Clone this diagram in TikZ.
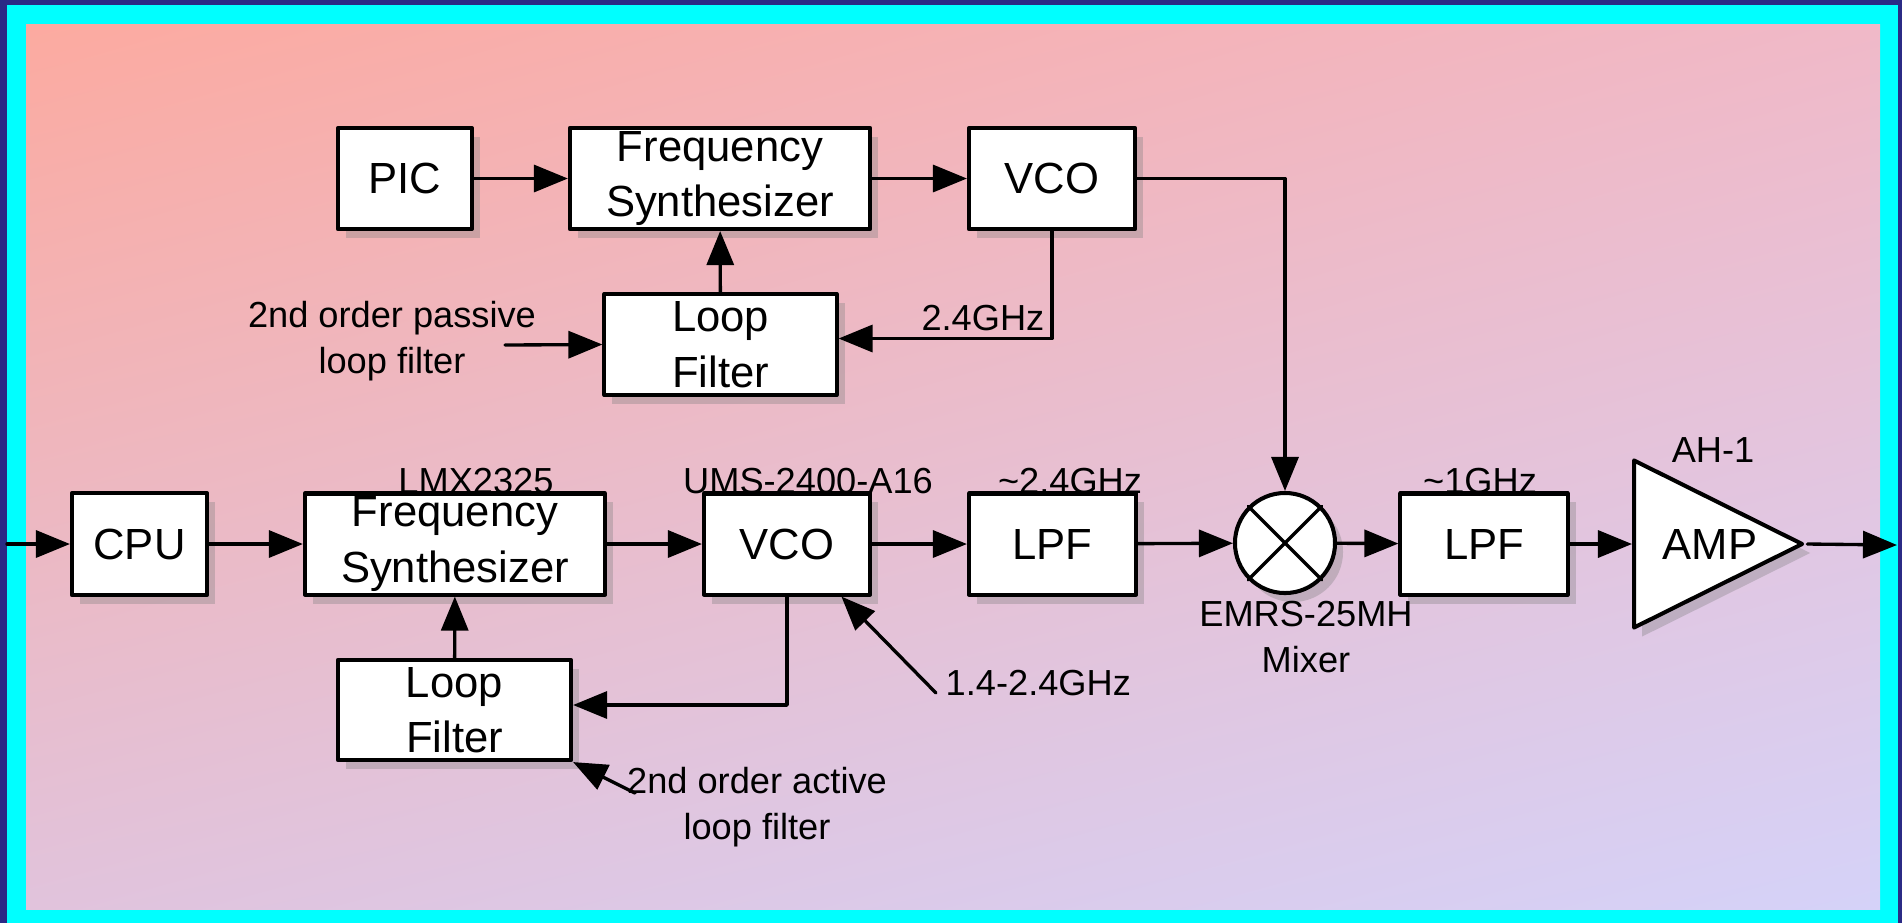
\documentclass[tikz,border=0pt]{standalone}
\usepackage{fontspec}
\setmainfont{Liberation Sans}
\usetikzlibrary{arrows.meta,shapes.geometric,shadows,shadings}
\definecolor{navyrim}{rgb}{0.17,0.17,0.52}
\definecolor{cyanrim}{rgb}{0.,1.,1.}
\definecolor{bgsalmon}{rgb}{0.988,0.667,0.627}
\definecolor{bgrose}{rgb}{0.941,0.725,0.784}
\definecolor{bgmauve}{rgb}{0.882,0.765,0.863}
\definecolor{bglilac}{rgb}{0.835,0.824,0.973}
\tikzset{
  blk/.style={draw=black,line width=1.15pt,fill=white,align=center,inner sep=0pt,
    minimum height=1.01cm,font=\fontsize{12.4}{15.8}\selectfont,
    drop shadow={shadow xshift=0.08cm,shadow yshift=-0.09cm,opacity=0.35}},
  mixr/.style={circle,draw=black,line width=1.15pt,fill=white,inner sep=0pt,minimum size=1.0cm,
    drop shadow={shadow xshift=0.08cm,shadow yshift=-0.09cm,opacity=0.35}},
  ampl/.style={isosceles triangle,isosceles triangle stretches,draw=black,line width=1.15pt,
    fill=white,inner sep=0pt,minimum width=1.67cm,minimum height=1.68cm,
    font=\fontsize{12.4}{15.8}\selectfont,
    drop shadow={shadow xshift=0.08cm,shadow yshift=-0.09cm,opacity=0.35}},
  lbl/.style={inner sep=0pt,font=\fontsize{10.3}{13}\selectfont},
  conn/.style={line width=0.95pt,-{Triangle[length=0.34cm,width=0.27cm]}}
}
\begin{document}
\begin{tikzpicture}[line cap=round,line join=round,x=0.01cm,y=-0.01cm]
\useasboundingbox (0,0) rectangle (1902,923);
\fill[navyrim] (0,0) rectangle (1902,923);
\fill[cyanrim] (7,5) rectangle (1898,923);
\shade[upper left=bgsalmon,upper right=bgrose,lower left=bgmauve,lower right=bglilac] (26,24) rectangle (1880,909);
% upper loop
\node[blk,minimum width=1.34cm] (pic) at (405,178.5) {PIC};
\node[blk,minimum width=3.00cm] (fsA) at (720,178.5) {Frequency\\Synthesizer};
\node[blk,minimum width=1.66cm] (vcoA) at (1052,178.5) {VCO};
\node[blk,minimum width=2.32cm] (lfA) at (720.5,344.5) {Loop\\Filter};
\coordinate (passin) at (505,345);
% lower chain
\node[blk,minimum width=1.35cm,minimum height=1.02cm] (cpu) at (139.5,544) {CPU};
\node[blk,minimum width=3.00cm] (fsB) at (455,544) {Frequency\\Synthesizer};
\node[blk,minimum width=1.66cm] (vcoB) at (787,544) {VCO};
\node[blk,minimum width=2.33cm,minimum height=1.00cm] (lfB) at (454.5,710) {Loop\\Filter};
\node[blk,minimum width=1.67cm] (lpfA) at (1052.5,544) {LPF};
\node[mixr] (mix) at (1285,543) {};
\node[blk,minimum width=1.67cm] (lpfB) at (1484,544) {LPF};
\node[ampl,anchor=lower side] (amp) at (1632,544) {\hspace*{0.22cm}AMP};
\coordinate (rfin) at (7,544);
\coordinate (rfout) at (1897,545);
\coordinate (actin) at (635,793);
\coordinate (tunein) at (936,693);
\draw[line width=0.95pt] (mix.45) -- (mix.-135);
\draw[line width=0.95pt] (mix.135) -- (mix.-45);
% connectors
\draw[conn] (pic) -- (fsA);
\draw[conn] (fsA) -- (vcoA);
\draw[conn] (lfA) -- (fsA);
\draw[conn] (vcoA.south) |- ([yshift=0.06cm]lfA.east);
\draw[conn] (passin) -- (lfA.west);
\draw[conn] (vcoA.east) -| (mix.north);
\draw[conn] (rfin) -- (cpu.west);
\draw[conn] (cpu) -- (fsB);
\draw[conn] (fsB) -- (vcoB);
\draw[conn] (lfB) -- (fsB);
\draw[conn] (vcoB.south) |- ([yshift=0.05cm]lfB.east);
\draw[conn] (actin) -- (lfB.south east);
\draw[conn] (tunein) -- (vcoB.-44);
\draw[conn] (vcoB) -- (lpfA);
\draw[conn] (lpfA) -- (mix);
\draw[conn] (mix) -- (lpfB);
\draw[conn] (lpfB.east) -- (amp.lower side);
\draw[conn] (amp.apex) -- (rfout);
% labels
\node[lbl,anchor=base east] at (1045,330) {2.4GHz};
\node[lbl,align=center] at (392,341) {2nd order passive\\loop filter};
\node[lbl,align=center] at (757,807) {2nd order active\\loop filter};
\node[lbl,anchor=base] at (476,493) {LMX2325};
\node[lbl,anchor=base] at (808,493) {UMS-2400-A16};
\node[lbl,anchor=base] at (1070,493) {\textasciitilde2.4GHz};
\node[lbl,anchor=base] at (1480,493) {\textasciitilde1GHz};
\node[lbl,anchor=base] at (1713,462) {AH-1};
\node[lbl,anchor=base west] at (945,695) {1.4-2.4GHz};
\node[lbl,align=center] at (1306,637) {EMRS-25MH\\Mixer};
\end{tikzpicture}
\end{document}
